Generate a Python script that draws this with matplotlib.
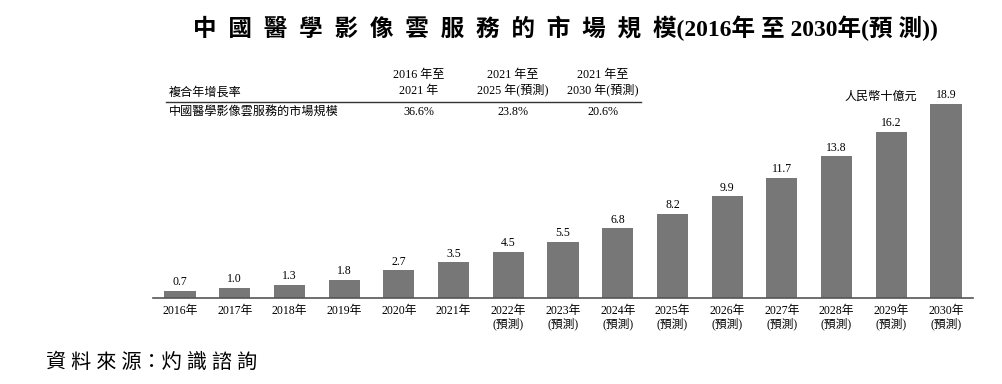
import numpy as np
import matplotlib
import matplotlib.pyplot as plt

matplotlib.use("agg")

FONT = ['Liberation Serif', 'Noto Sans CJK TC', 'DejaVu Sans']
plt.rcParams['font.family'] = FONT

# data
years = ["2016年", "2017年", "2018年", "2019年", "2020年", "2021年",
         "2022年\n(預測)", "2023年\n(預測)", "2024年\n(預測)", "2025年\n(預測)",
         "2026年\n(預測)", "2027年\n(預測)", "2028年\n(預測)", "2029年\n(預測)",
         "2030年\n(預測)"]
market = [0.7, 1.0, 1.3, 1.8, 2.7, 3.5, 4.5, 5.5, 6.8, 8.2, 9.9, 11.7, 13.8, 16.2, 18.9]

cagr_headers = ["2016 年至\n2021 年", "2021 年至\n2025 年(預測)", "2021 年至\n2030 年(預測)"]
cagr_values = ["36.6%", "23.8%", "20.6%"]
row_label = "中國醫學影像雲服務的市場規模"

W, H = 1002, 384
fig = plt.figure(figsize=(W / 100, H / 100), dpi=100)

# axes placed by pixel: left 153, right 973, bottom 298, top 60
ax = fig.add_axes([153 / W, 1 - 298 / H, (973 - 153) / W, (298 - 60) / H])
x = np.arange(len(market))
ax.bar(x, market, width=0.57, color="#777777")
ax.set_xlim(-0.494, len(market) - 1 + 0.494)
ax.set_ylim(0, 18.9 * 238 / 194)
for xi, v in zip(x, market):
    ax.text(xi, v + 0.25, f"{v:.1f}", ha="center", va="bottom", fontsize=8.5)
ax.set_xticks(x)
ax.set_xticklabels(years, fontsize=8.5, linespacing=1.1)
ax.tick_params(axis="x", length=0, pad=5)
ax.set_yticks([])
for s in ["top", "right", "left"]:
    ax.spines[s].set_visible(False)
ax.spines["bottom"].set_color("#555555")
ax.spines["bottom"].set_linewidth(1.2)

# title
fig.text(565 / W, 1 - 28 / H,
         "中  國  醫  學  影  像  雲  服  務  的  市  場  規  模(2016年 至 2030年(預 測))",
         ha="center", va="center", fontsize=17, fontweight="bold")

# CAGR table
fig.text(169 / W, 1 - 93 / H, "複合年增長率", ha="left", va="center", fontsize=8.7)
for cx, hdr, val in zip([419, 513, 603], cagr_headers, cagr_values):
    fig.text(cx / W, 1 - 83 / H, hdr, ha="center", va="center", fontsize=8.7, linespacing=1.35)
    fig.text(cx / W, 1 - 112 / H, val, ha="center", va="center", fontsize=8.7)
fig.text(169 / W, 1 - 112 / H, row_label, ha="left", va="center", fontsize=8.7)
fig.add_artist(plt.Line2D([166 / W, 641 / W], [1 - 102 / H, 1 - 102 / H], color="#333333", lw=1))

fig.text(917 / W, 1 - 97 / H, "人民幣十億元", ha="right", va="center", fontsize=8.7, style="italic")

# source
fig.text(46 / W, 1 - 363 / H, "資 料 來 源：灼 識 諮 詢", ha="left", va="center",
         fontsize=14.5, style="italic")

fig.savefig("out.png", dpi=100)
